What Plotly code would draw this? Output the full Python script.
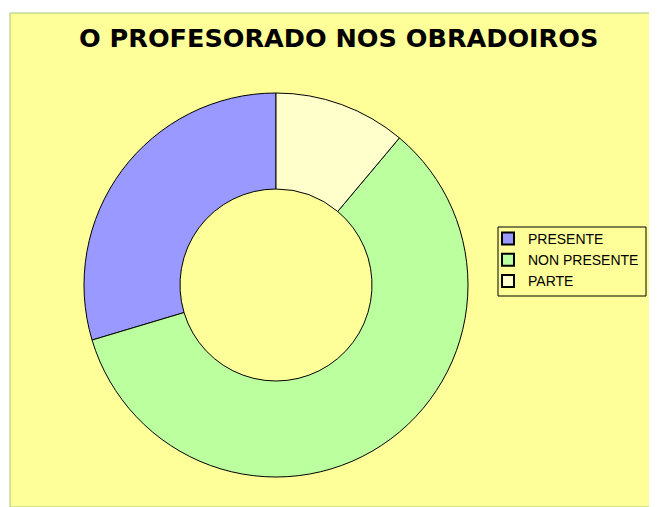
import plotly.graph_objects as go

labels = ["PRESENTE", "NON PRESENTE", "PARTE"]
values = [8, 16, 3]
colors = ["#9999FF", "#BBFF9F", "#FFFFCC"]
title_text = "O PROFESORADO NOS OBRADOIROS"

OFF = 8  # default body margin of the html page
W, H = 657 - OFF, 507 - OFF
L, T = 10 - OFF, 13 - OFF
pw, ph = W - L, H - T

def fx(px):
    return (px - OFF - L) / pw

def fy(py):
    return (H - (py - OFF)) / ph

# first slice (PRESENTE) should end at 12 o'clock going counterclockwise
rot = -360.0 * values[0] / sum(values)

fig = go.Figure()
fig.add_trace(go.Pie(
    labels=labels, values=values, hole=0.5, sort=False,
    direction="counterclockwise", rotation=rot,
    marker=dict(colors=colors, line=dict(color="black", width=1)),
    textinfo="none", hoverinfo="label+value+percent",
    domain=dict(x=[fx(84), fx(468)], y=[fy(477), fy(93)]),
))

fig.update_layout(
    width=W, height=H,
    margin=dict(l=L, r=0, t=T, b=0),
    paper_bgcolor="white",
    showlegend=True,
    legend=dict(
        x=fx(488), y=fy(223), xanchor="left", yanchor="top",
        bgcolor="rgba(0,0,0,0)", borderwidth=0,
        font=dict(family="Liberation Sans, Arial, sans-serif", size=14, color="black"),
        itemsizing="constant", tracegroupgap=0,
    ),
    shapes=[
        dict(type="rect", xref="paper", yref="paper", x0=0, y0=0, x1=1, y1=1,
             fillcolor="#FFFF99", line=dict(color="#A8C878", width=1), layer="below"),
        dict(type="rect", xref="paper", yref="paper", x0=fx(498), x1=fx(646), y0=fy(296), y1=fy(227),
             fillcolor="rgba(0,0,0,0)", line=dict(color="black", width=1), layer="above"),
    ],
    annotations=[dict(text="<b>" + title_text + "</b>", x=fx(338), y=fy(38), xref="paper", yref="paper",
                      xanchor="center", yanchor="middle", showarrow=False,
                      font=dict(family="DejaVu Sans, sans-serif", size=25.5, color="black"))],
)

fig.write_html("out.html")
